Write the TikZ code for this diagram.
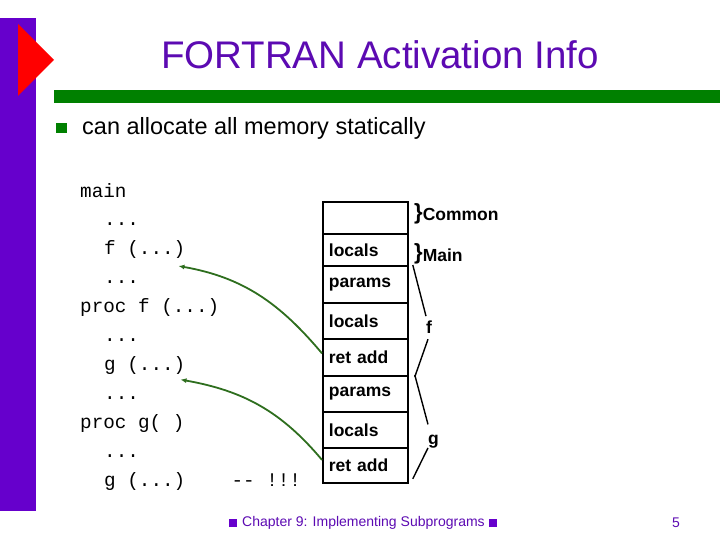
\documentclass[tikz,border=0pt]{standalone}
\usepackage{fontspec}
\setmainfont{Liberation Sans}
\newfontfamily\codefont{Liberation Mono}
\usetikzlibrary{arrows.meta}
\definecolor{barpurple}{RGB}{102,0,204}
\definecolor{titlepurple}{RGB}{92,10,178}
\definecolor{slidegreen}{RGB}{0,128,0}
\definecolor{arrowgreen}{RGB}{46,110,30}

\begin{document}
\begin{tikzpicture}[x=1pt,y=-1pt,>={Latex[length=6pt,width=5pt]},
  every node/.style={inner sep=0pt},
  code/.style={anchor=base west,font=\fontsize{19.3}{22}\codefont},
  cell/.style={draw,line width=1.8pt,anchor=north west,minimum width=85pt,text width=73pt,
    inner xsep=6pt,inner ysep=1pt,font=\fontsize{17.5}{20}\selectfont\bfseries},
  side/.style={anchor=base west,font=\fontsize{17.5}{20}\selectfont\bfseries},
  bracket/.style={line width=1.4pt},
  ret/.style={->,arrowgreen,line width=1.8pt}]
\useasboundingbox (0,0) rectangle (720,540);
% slide frame
\fill[barpurple] (0,18) rectangle (36,511);
\fill[red] (18,24)--(54,60)--(18,96)--cycle;
\fill[slidegreen] (54,90) rectangle (720,103);
\node[titlepurple,anchor=base,font=\fontsize{38.5}{44}\selectfont] (title) at (380,69) {FORTRAN Activation Info};
\fill[slidegreen] (56,123) rectangle (67,133);
\node[anchor=base west,font=\fontsize{23.5}{28}\selectfont] (point) at (82,135) {can allocate all memory statically};
% program text
\node[code] (l1) at (80,197) {main};
\node[code] (l2) at (104,225.9) {...};
\node[code] (l3) at (104,254.8) {f (...)};
\node[code] (l4) at (104,283.7) {...};
\node[code] (l5) at (80,312.6) {proc f (...)};
\node[code] (l6) at (104,341.5) {...};
\node[code] (l7) at (104,370.4) {g (...)};
\node[code] (l8) at (104,399.3) {...};
\node[code] (l9) at (80,428.2) {proc g( )};
\node[code] (l10) at (104,457.1) {...};
\node[code] (l11) at (104,486) {g (...)\ \ \ \ -\kern0pt- !!!};
% static memory
\node[cell,minimum height=32pt] (c1) at (322,201) {};
\node[cell,minimum height=32pt] (c2) at (322,233) {locals};
\node[cell,minimum height=37pt] (c3) at (322,265) {params};
\node[cell,minimum height=36pt] (c4) at (322,302) {locals};
\node[cell,minimum height=37pt] (c5) at (322,338) {ret add};
\node[cell,minimum height=36pt] (c6) at (322,375) {params};
\node[cell,minimum height=36pt] (c7) at (322,411) {locals};
\node[cell,minimum height=35pt] (c8) at (322,447) {ret add};
\node[side] (common) at (414,221) {\raisebox{1.5pt}{\fontsize{22}{22}\selectfont\}}Common};
\node[side] (main) at (414,261) {\raisebox{1.5pt}{\fontsize{22}{22}\selectfont\}}Main};
\node[side] (fl) at (426,333) {f};
\node[side] (gl) at (428,444) {g};
\draw[bracket] ([xshift=4pt]c3.north east)--([yshift=4pt]fl.north west);
\draw[bracket] ([xshift=2pt,yshift=-6pt]fl.south west)--([xshift=6pt]c5.south east);
\draw[bracket] ([xshift=6pt]c6.north east)--([yshift=10pt]gl.north west);
\draw[bracket] (gl.south west)--([xshift=4pt,yshift=5pt]c8.south east);
% return addresses
\draw[ret] ([yshift=4pt]c5.west) to[out=130,in=-10] ([xshift=-7pt,yshift=-7pt]l3.south east);
\draw[ret] ([yshift=5.5pt]c8.west) to[out=130,in=-10] ([xshift=-5pt,yshift=-5pt]l7.south east);
% footer
\fill[barpurple] (229,519) rectangle (237,527);
\node[titlepurple,anchor=west,font=\fontsize{14}{16}\selectfont] (foot) at (242,523) {Chapter 9: Implementing Subprograms};
\fill[barpurple] (489,519) rectangle (497,527);
\node[titlepurple,anchor=west,font=\fontsize{14}{16}\selectfont] (page) at (672,523) {5};
\end{tikzpicture}
\end{document}
